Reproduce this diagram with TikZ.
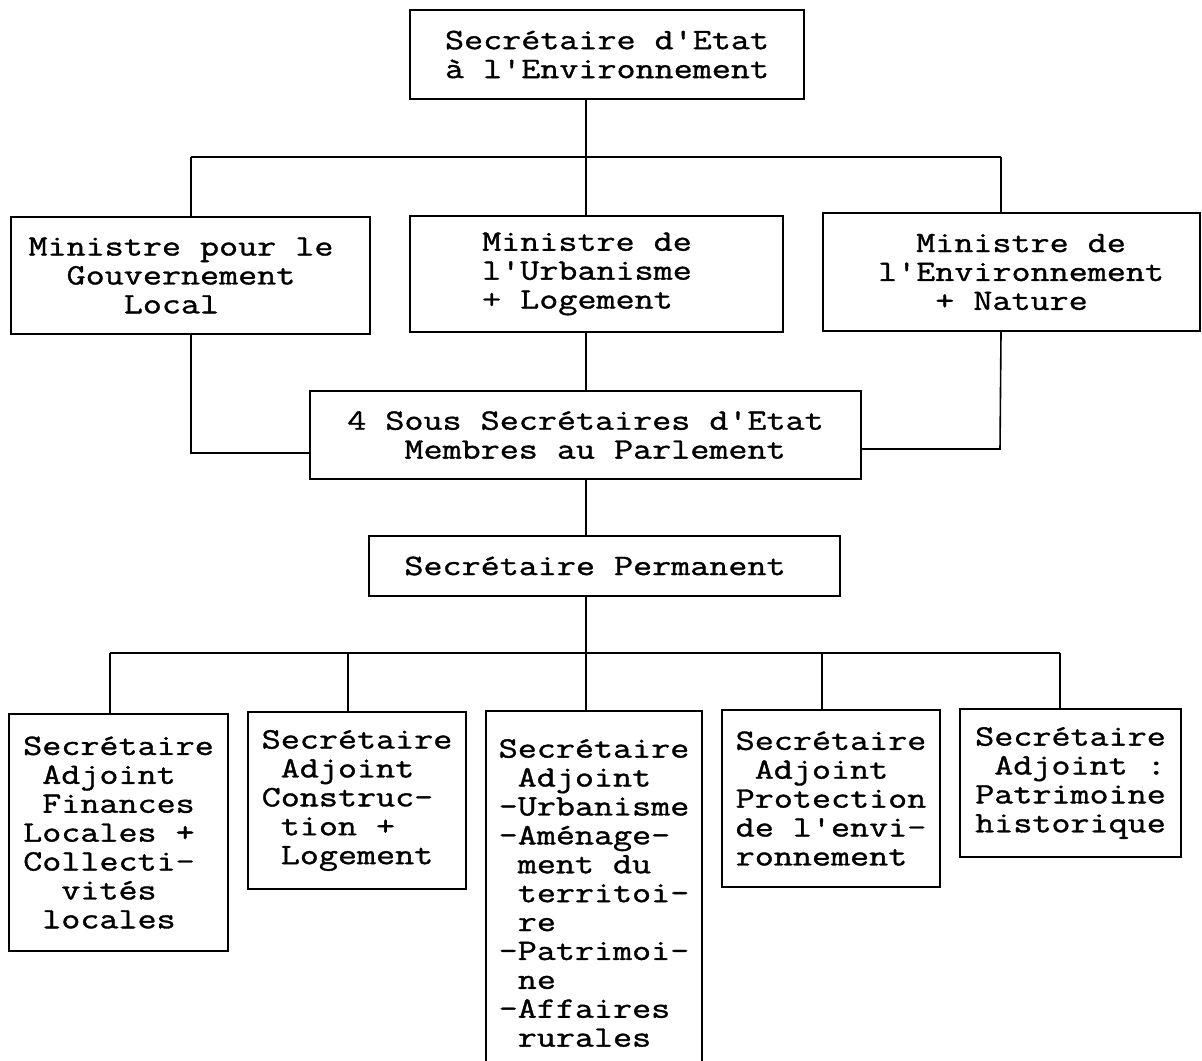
\documentclass[tikz,border=0pt]{standalone}
\usepackage{fontspec}
\setmainfont{Latin Modern Mono}[Ligatures=TeXOff,FakeStretch=1.25,FakeBold=1.2]
\usepackage{tikz}
\usetikzlibrary{calc}
\lineskiplimit=-30pt
\lineskip=0pt
\newcommand\ind{\phantom{x}}

\begin{document}
\begin{tikzpicture}[x=0.5pt,y=0.5pt,font=\rmfamily\fontsize{14.8}{14.45}\selectfont,
 box/.style={draw,line width=1.1pt,align=left,inner sep=0pt},
 link/.style={line width=0.8pt}]
\useasboundingbox (0,0) rectangle (1202,-1060);
% top of the chart
\node[box,minimum width=197pt,minimum height=44.5pt] (top) at (607,-54.5) {Secrétaire d'Etat\\à l'Environnement};
\node[box,minimum width=179.5pt,minimum height=58.5pt] (min1) at (190.5,-275.5) {Ministre pour le\ind\\\ind\ind Gouvernement\\\ind\ind\ind\ind\ind Local};
\node[box,minimum width=186.5pt,minimum height=58pt] (min2) at (596.5,-274) {Ministre de\\l'Urbanisme\ind\\+ Logement};
\node[box,minimum width=188.5pt,minimum height=59pt] (min3) at (1011.5,-272) {\ind\ind\ind Ministre de\\\ind l'Environnement\\\ind\ind\ind\ind + Nature};
\node[box,minimum width=275.5pt,minimum height=44pt] (sous) at (585.5,-435) {4 Sous Secrétaires d'Etat\\\ind\ind\ind Membres au Parlement};
\node[box,minimum width=235.5pt,minimum height=30pt] (perm) at (604.5,-566) {Secrétaire Permanent\ind};
% secretaires adjoints
\node[box,minimum width=109.5pt,minimum height=118.5pt] (sa1) at (118.5,-832.5) {Secrétaire\\\ind Adjoint\\\ind Finances\\Locales +\\Collecti-\\\ind\ind vités\\\ind locales};
\node[box,minimum width=109pt,minimum height=88.5pt] (sa2) at (357,-800.5) {Secrétaire\\\ind Adjoint\\Construc-\\\ind tion +\\\ind Logement};
\node[box,minimum width=108pt,minimum height=182pt] (sa3) at (594,-893) {Secrétaire\\\ind Adjoint\\-Urbanisme\\-Aménage-\\\ind ment du\\\ind territoi-\\\ind re\\-Patrimoi-\\\ind ne\\-Affaires\\\ind rurales};
\node[box,minimum width=109pt,minimum height=88.5pt] (sa4) at (831,-798.5) {Secrétaire\\\ind Adjoint\\Protection\\de l'envi-\\ronnement};
\node[box,minimum width=110.5pt,minimum height=74pt] (sa5) at (1070.5,-783) {Secrétaire\\\ind Adjoint :\\Patrimoine\\historique};
% junctions
\coordinate (t1) at (191,-157);
\coordinate (tm) at (586,-157);
\coordinate (t3) at (1001,-157);
\coordinate (jl) at (191,-453);
\coordinate (jr) at (1000,-449);
\coordinate (b1) at (110,-653);
\coordinate (b2) at (348,-653);
\coordinate (bm) at (586,-653);
\coordinate (b4) at (822,-653);
\coordinate (b5) at (1060,-653);
\draw[link] (tm |- top.south) -- (tm |- min2.north);
\draw[link] (t1) -- (t3);
\draw[link] (t1) -- (t1 |- min1.north);
\draw[link] (t3) -- (t3 |- min3.north);
\draw[link] (t1 |- min1.south) -- (jl) -- (jl -| sous.west);
\draw[link] (t3 |- min3.south) -- (jr) -- (jr -| sous.east);
\draw[link] (tm |- min2.south) -- (tm |- sous.north);
\draw[link] (tm |- sous.south) -- (tm |- perm.north);
\draw[link] (tm |- perm.south) -- (bm);
\draw[link] (b1) -- (b5);
\draw[link] (b1) -- (b1 |- sa1.north);
\draw[link] (b2) -- (b2 |- sa2.north);
\draw[link] (bm) -- (bm |- sa3.north);
\draw[link] (b4) -- (b4 |- sa4.north);
\draw[link] (b5) -- (b5 |- sa5.north);
\end{tikzpicture}
\end{document}
